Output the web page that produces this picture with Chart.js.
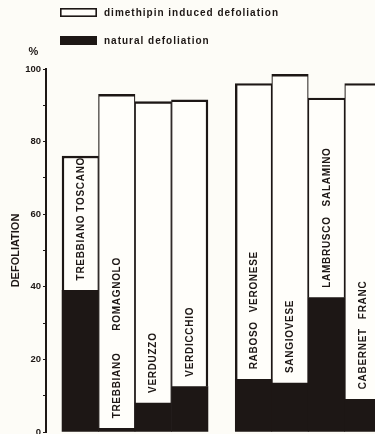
<!DOCTYPE html>
<html>
<head>
<meta charset="utf-8">
<script src="https://cdn.jsdelivr.net/npm/chart.js@4"></script>
<style>
  html, body { margin: 0; padding: 0; background: #fdfcf7; }
  #frame { width: 375px; height: 434px; overflow: hidden; position: relative; }
  canvas { display: block; }
</style>
</head>
<body>
<div id="frame"><canvas id="defoliation" width="375" height="446"></canvas></div>
<script>
// Grape varieties, white-berried group first, then red-berried group
const varieties = [
  'TREBBIANO TOSCANO', 'TREBBIANO ROMAGNOLO', 'VERDUZZO', 'VERDICCHIO',
  'RABOSO VERONESE', 'SANGIOVESE', 'LAMBRUSCO SALAMINO', 'CABERNET FRANC'
];
const groupSizes = [4, 4];

// Defoliation (%) – natural leaf fall and the extra share induced by dimethipin
const naturalDefoliation = [39, 1, 8, 12.5, 14.5, 13.5, 37, 9];
const inducedDefoliation = [37, 92, 83, 79, 81.5, 85, 55, 87];

// Labelled y ticks (minor ticks every 10 %)
const yTickLabels = [0, 20, 40, 60, 80, 100];

// Styling
const INK = '#1d1715';
const BAR_WHITE = '#fffefa';
const FONT = '"Liberation Sans", Arial, Helvetica, sans-serif';
const GROUP_GAP = 0.75;            // empty space between groups, in bar widths
const labelWordGap = [3, 22, 0, 0, 9, 0, 10, 9];

// bar centres on the linear index axis, one unit per bar
const groupOf = i => {
  let acc = 0;
  for (let g = 0; g < groupSizes.length; g++) {
    acc += groupSizes[g];
    if (i < acc) return g;
  }
  return groupSizes.length - 1;
};
const xPos = varieties.map((_, i) => i + groupOf(i) * GROUP_GAP);
const isGroupStart = i => i === 0 || groupOf(i) !== groupOf(i - 1);
const isGroupEnd = i => i === varieties.length - 1 || groupOf(i) !== groupOf(i + 1);

const toPoints = arr => arr.map((v, i) => ({ x: xPos[i], y: v }));

// legend boxes stacked above the plot, plus the "%" unit mark over the axis
const legendPlugin = {
  id: 'stackedLegend',
  afterDraw(chart) {
    const { ctx, chartArea } = chart;
    const left = chartArea.left + 14;
    const items = chart.data.datasets.slice().reverse();
    ctx.save();
    ctx.font = 'bold 10px ' + FONT;
    if ('letterSpacing' in ctx) ctx.letterSpacing = '1px';
    ctx.textBaseline = 'middle';
    ctx.textAlign = 'left';
    items.forEach((ds, k) => {
      const top = 8 + k * 28;
      ctx.fillStyle = ds.backgroundColor;
      ctx.fillRect(left, top, 37, 9);
      if (ds.backgroundColor !== INK) {
        ctx.strokeStyle = INK;
        ctx.lineWidth = 1.6;
        ctx.strokeRect(left + 0.8, top + 0.8, 37 - 1.6, 9 - 1.6);
      }
      ctx.fillStyle = INK;
      ctx.fillText(ds.label, left + 44, top + 5);
    });
    ctx.font = 'bold 11px ' + FONT;
    ctx.textAlign = 'center';
    ctx.fillText('%', chartArea.left - 12, chartArea.top - 17);
    ctx.restore();
  }
};

// variety names written upward inside each white bar
const barLabelPlugin = {
  id: 'barLabels',
  afterDatasetsDraw(chart) {
    const { ctx } = chart;
    const xs = chart.scales.x, ys = chart.scales.y;
    ctx.save();
    ctx.font = 'bold 10px ' + FONT;
    if ('letterSpacing' in ctx) ctx.letterSpacing = '0.7px';
    ctx.fillStyle = INK;
    ctx.textBaseline = 'middle';
    ctx.textAlign = 'left';
    varieties.forEach((name, i) => {
      const x = xs.getPixelForValue(xPos[i]);
      const y = ys.getPixelForValue(naturalDefoliation[i]) - 10;
      ctx.save();
      ctx.translate(x + 0.5, y);
      ctx.rotate(-Math.PI / 2);
      let cx = 0;
      name.split(' ').forEach((w, k) => {
        if (k) cx += labelWordGap[i];
        ctx.fillText(w, cx, 0);
        cx += ctx.measureText(w).width;
      });
      ctx.restore();
    });
    ctx.restore();
  }
};

new Chart(document.getElementById('defoliation'), {
  type: 'bar',
  data: {
    datasets: [
      {
        label: 'natural defoliation',
        data: toPoints(naturalDefoliation),
        backgroundColor: INK,
        borderWidth: 0,
        barPercentage: 1,
        categoryPercentage: 1
      },
      {
        label: 'dimethipin induced defoliation',
        data: toPoints(inducedDefoliation),
        backgroundColor: BAR_WHITE,
        borderColor: INK,
        borderSkipped: false,
        borderWidth: c => ({
          top: 2.4,
          bottom: 0,
          left: isGroupStart(c.dataIndex) ? 2.4 : 1.2,
          right: isGroupEnd(c.dataIndex) ? 2.4 : 1.2
        }),
        barPercentage: 1,
        categoryPercentage: 1
      }
    ]
  },
  options: {
    responsive: false,
    animation: false,
    layout: { padding: { top: 69, bottom: 14, left: 0, right: 0 } },
    plugins: {
      legend: { display: false },
      tooltip: { enabled: false }
    },
    scales: {
      x: {
        type: 'linear',
        stacked: true,
        display: false,
        offset: false,
        min: -0.94,
        max: 8.08,
        ticks: { stepSize: 1, includeBounds: false },
        grid: { offset: false }
      },
      y: {
        stacked: true,
        min: 0,
        max: 100,
        ticks: {
          stepSize: 10,
          padding: 2,
          color: INK,
          font: { family: FONT, size: 9.5, weight: 'bold' },
          callback: v => (yTickLabels.includes(v) ? String(v) : '')
        },
        grid: {
          drawOnChartArea: false,
          tickLength: 3,
          tickWidth: 1.2,
          color: INK
        },
        border: { color: INK, width: 2 },
        title: {
          display: true,
          text: 'DEFOLIATION',
          color: INK,
          font: { family: FONT, size: 11, weight: 'bold' },
          padding: { top: 9, bottom: 0 }
        },
        afterFit: s => { s.width = 46; }
      }
    }
  },
  plugins: [legendPlugin, barLabelPlugin]
});
</script>
</body>
</html>
